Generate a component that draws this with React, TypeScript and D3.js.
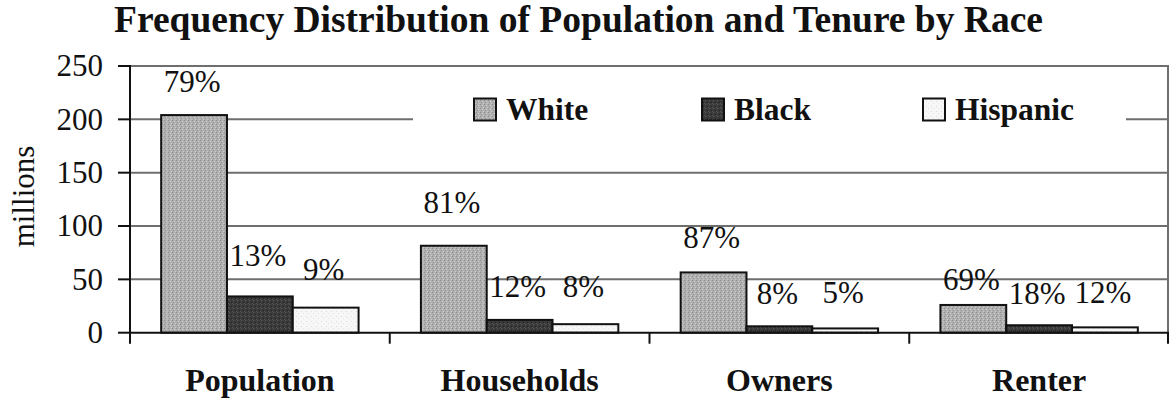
import React from "react";
import * as d3 from "d3";

// Categories and series
const categories = ["Population", "Households", "Owners", "Renter"];
const seriesNames = ["White", "Black", "Hispanic"];

// Values in millions
const whiteValues = [204, 81.5, 56.5, 26];
const blackValues = [34, 12, 6, 7];
const hispanicValues = [23.5, 8, 4, 5];

// Share labels drawn above each bar
const whiteShares = ["79%", "81%", "87%", "69%"];
const blackShares = ["13%", "12%", "8%", "18%"];
const hispanicShares = ["9%", "8%", "5%", "12%"];

const yTicks = [0, 50, 100, 150, 200, 250];

// ---- layout ----
const W = 1171;
const H = 399;
const plot = { left: 130, right: 1169, top: 66, bottom: 332.7 };
const SERIF = "'Liberation Serif', 'Times New Roman', Times, serif";
const fills = ["url(#patWhite)", "url(#patBlack)", "url(#patHisp)"];
// distance (px) from each bar top to its share label baseline
const labelLiftPx = [
  [22.6, 32.4, 24, 15],
  [30, 23.3, 22.7, 21.7],
  [27.7, 27.6, 25.4, 24],
];
const legendX = [474, 702, 923];

export default function App() {
  const values = [whiteValues, blackValues, hispanicValues];
  const shares = [whiteShares, blackShares, hispanicShares];

  const x0 = d3
    .scaleBand<string>()
    .domain(categories)
    .range([plot.left, plot.right])
    .paddingInner(0.24)
    .paddingOuter(0.12);
  const x1 = d3
    .scaleBand<string>()
    .domain(seriesNames)
    .range([0, x0.bandwidth()])
    .padding(0);
  const y = d3.scaleLinear().domain([0, 250]).range([plot.bottom, plot.top]);

  const step = x0.step();
  const catBounds = d3.range(categories.length + 1).map((i) => plot.left + i * step);

  return (
    <svg
      width={W}
      height={H}
      style={{ position: "absolute", left: 0, top: 0, background: "#fff" }}
      fontFamily={SERIF}
    >
      <defs>
        <pattern id="patWhite" width="4" height="4" patternUnits="userSpaceOnUse">
          <rect width="4" height="4" fill="#b0b0b0" />
          <rect x="0" y="0" width="1" height="1" fill="#8c8c8c" />
          <rect x="2" y="1" width="1" height="1" fill="#cfcfcf" />
          <rect x="1" y="2" width="1" height="1" fill="#959595" />
          <rect x="3" y="3" width="1" height="1" fill="#c8c8c8" />
        </pattern>
        <pattern id="patBlack" width="4" height="4" patternUnits="userSpaceOnUse">
          <rect width="4" height="4" fill="#3a3a3a" />
          <rect x="1" y="0" width="1" height="1" fill="#5a5a5a" />
          <rect x="3" y="2" width="1" height="1" fill="#222" />
          <rect x="0" y="3" width="1" height="1" fill="#555" />
        </pattern>
        <pattern id="patHisp" width="5" height="5" patternUnits="userSpaceOnUse">
          <rect width="5" height="5" fill="#f7f7f7" />
          <rect x="1" y="1" width="1" height="1" fill="#dcdcdc" />
          <rect x="3" y="3" width="1" height="1" fill="#e4e4e4" />
        </pattern>
      </defs>

      {/* title */}
      <text
        x={578.5}
        y={32}
        textAnchor="middle"
        fontWeight="bold"
        fontSize={37.5}
        fontFamily={SERIF}
        fill="#111"
      >
        Frequency Distribution of Population and Tenure by Race
      </text>

      {/* gridlines */}
      {yTicks
        .filter((t) => t > 0)
        .map((t) => (
          <line
            key={"g" + t}
            x1={plot.left}
            x2={plot.right}
            y1={y(t)}
            y2={y(t)}
            stroke="#6e6e6e"
            strokeWidth={2}
          />
        ))}
      {/* plot border on right */}
      <line
        x1={plot.right - 1}
        x2={plot.right - 1}
        y1={plot.top}
        y2={plot.bottom}
        stroke="#6e6e6e"
        strokeWidth={2}
      />

      {/* legend */}
      <rect x={413} y={94} width={713} height={50} fill="#fff" />
      {seriesNames.map((s, i) => (
        <g key={"lg" + s}>
          <rect
            x={legendX[i]}
            y={98.5}
            width={22}
            height={22}
            fill={fills[i]}
            stroke="#111"
            strokeWidth={2}
          />
          <text
            x={legendX[i] + 32}
            y={120}
            fontSize={31.5}
            fontWeight="bold"
            fontFamily={SERIF}
            fill="#111"
          >
            {s}
          </text>
        </g>
      ))}

      {/* bars */}
      {categories.map((c, ci) =>
        seriesNames.map((s, si) => {
          const v = values[si][ci];
          const bx = (x0(c) as number) + (x1(s) as number);
          return (
            <rect
              key={c + s}
              x={bx}
              y={y(v)}
              width={x1.bandwidth()}
              height={plot.bottom - y(v)}
              fill={fills[si]}
              stroke="#111"
              strokeWidth={2}
            />
          );
        })
      )}

      {/* share labels */}
      {categories.map((c, ci) =>
        seriesNames.map((s, si) => {
          const v = values[si][ci];
          const cx = (x0(c) as number) + (x1(s) as number) + x1.bandwidth() / 2 - 2;
          return (
            <text
              key={"l" + c + s}
              x={cx}
              y={y(v) - labelLiftPx[si][ci]}
              textAnchor="middle"
              fontSize={31}
              fontFamily={SERIF}
              fill="#111"
            >
              {shares[si][ci]}
            </text>
          );
        })
      )}

      {/* y axis */}
      <line x1={plot.left} x2={plot.left} y1={plot.top - 1} y2={plot.bottom + 1} stroke="#111" strokeWidth={2} />
      {yTicks.map((t) => (
        <g key={"yt" + t}>
          <line x1={plot.left - 12} x2={plot.left} y1={y(t)} y2={y(t)} stroke="#111" strokeWidth={2} />
          <text
            x={103}
            y={y(t)}
            dy="0.33em"
            textAnchor="end"
            fontSize={31}
            fontFamily={SERIF}
            fill="#111"
          >
            {t}
          </text>
        </g>
      ))}
      <text
        transform={`translate(33.5, 196.5) rotate(-90)`}
        textAnchor="middle"
        fontSize={31}
        fontFamily={SERIF}
        fill="#111"
      >
        millions
      </text>

      {/* x axis */}
      <line x1={plot.left} x2={plot.right} y1={plot.bottom} y2={plot.bottom} stroke="#111" strokeWidth={2} />
      {catBounds.map((bx, i) => (
        <line
          key={"xt" + i}
          x1={i === catBounds.length - 1 ? bx - 1 : bx}
          x2={i === catBounds.length - 1 ? bx - 1 : bx}
          y1={plot.bottom}
          y2={plot.bottom + 11}
          stroke="#111"
          strokeWidth={2}
        />
      ))}
      {categories.map((c) => (
        <text
          key={"xl" + c}
          x={(x0(c) as number) + x0.bandwidth() / 2}
          y={390.5}
          textAnchor="middle"
          fontSize={32}
          fontWeight="bold"
          fontFamily={SERIF}
          fill="#111"
        >
          {c}
        </text>
      ))}
    </svg>
  );
}
